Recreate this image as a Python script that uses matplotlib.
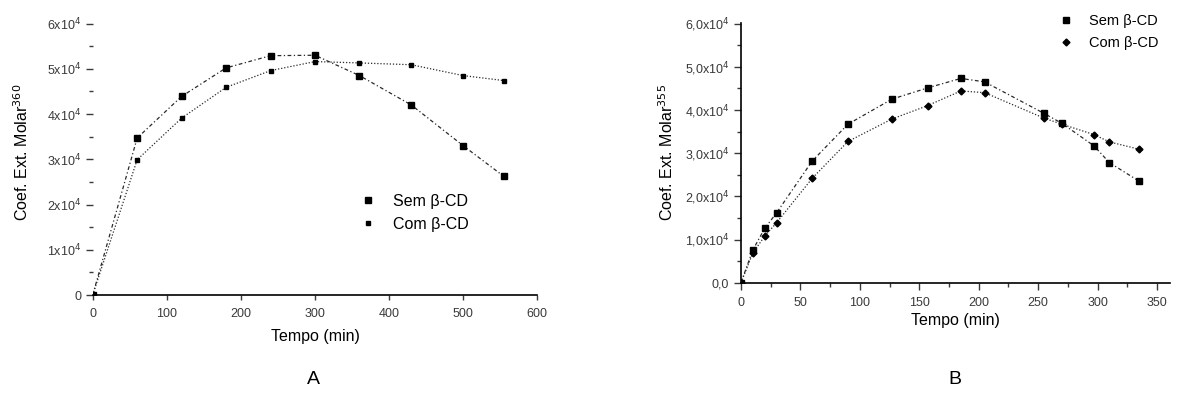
import matplotlib
matplotlib.use('Agg')
import matplotlib.pyplot as plt
from matplotlib.ticker import MultipleLocator

plt.rcParams['font.family'] = ['Liberation Sans', 'DejaVu Sans']

# painel A
tempo_a = [0, 60, 120, 180, 240, 300, 360, 430, 500, 555]
sem_a = [0, 3.47, 4.39, 5.02, 5.29, 5.30, 4.85, 4.20, 3.30, 2.62]
com_a = [0, 2.99, 3.91, 4.59, 4.96, 5.16, 5.13, 5.09, 4.85, 4.74]
yticks_a = [0, 1, 2, 3, 4, 5, 6]
ylabels_a = ['0', '1x10$^4$', '2x10$^4$', '3x10$^4$', '4x10$^4$', '5x10$^4$', '6x10$^4$']
xticks_a = [0, 100, 200, 300, 400, 500, 600]

# painel B
tempo_b = [0, 10, 20, 30, 60, 90, 127, 157, 185, 205, 255, 270, 297, 310, 335]
sem_b = [0, 0.76, 1.26, 1.62, 2.82, 3.67, 4.25, 4.51, 4.73, 4.65, 3.92, 3.69, 3.17, 2.78, 2.35]
com_b = [0, 0.69, 1.08, 1.39, 2.42, 3.27, 3.79, 4.10, 4.44, 4.40, 3.81, 3.67, 3.43, 3.26, 3.09]
yticks_b = [0, 1, 2, 3, 4, 5, 6]
ylabels_b = ['0,0', '1,0x10$^4$', '2,0x10$^4$', '3,0x10$^4$', '4,0x10$^4$', '5,0x10$^4$', '6,0x10$^4$']
xticks_b = [0, 50, 100, 150, 200, 250, 300, 350]

W, H = 1177, 396
fig = plt.figure(figsize=(W / 100, H / 100), dpi=100)
fig.set_facecolor('white')


def px_axes(x0, y0, x1, y1):
    # caixa em pixels (esq, topo, dir, baixo) -> fracao da figura
    return fig.add_axes([x0 / W, 1 - y1 / H, (x1 - x0) / W, (y1 - y0) / H])


tick_col = '#3a3a3a'
line_col = '#2a2a2a'
ls_sem = (0, (3, 2, 1, 2))
ls_com = (0, (1, 1.5))
lab_fs = 11.5
tick_fs = 9

# ---- A ----
axa = px_axes(92.7, 10, 537.3, 295)
axa.plot(tempo_a, sem_a, color=line_col, lw=0.9, ls=ls_sem, marker='s', ms=4,
         mfc='black', mec='black', label='Sem β-CD')
axa.plot(tempo_a, com_a, color=line_col, lw=0.9, ls=ls_com, marker='s', ms=3.5,
         mfc='black', mec='black', label='Com β-CD')
axa.set_xlim(0, 600)
axa.set_ylim(0, 6.3)
axa.set_xticks(xticks_a)
axa.set_yticks(yticks_a)
axa.set_yticklabels(ylabels_a)
axa.yaxis.set_minor_locator(MultipleLocator(0.5))
for s in ['top', 'right', 'left']:
    axa.spines[s].set_visible(False)
axa.spines['bottom'].set_linewidth(1.2)
axa.tick_params(axis='both', which='both', direction='out', labelsize=tick_fs, colors=tick_col, width=1)
axa.tick_params(axis='y', length=5, pad=3)
axa.tick_params(axis='y', which='minor', length=3)
axa.tick_params(axis='x', pad=6)
axa.set_xlabel('Tempo (min)', fontsize=lab_fs, labelpad=6)
axa.set_ylabel('Coef. Ext. Molar$^{360}$', fontsize=lab_fs, labelpad=12)
axa.legend(loc='center left', bbox_to_anchor=(347 / W, 1 - 213 / H), bbox_transform=fig.transFigure,
           frameon=False, fontsize=lab_fs, handlelength=1.2, handletextpad=1.0,
           labelspacing=0.5, borderpad=0.2)
for ln in axa.get_legend().get_lines():
    ln.set_linestyle('none')
fig.text(313 / W, 1 - 380 / H, 'A', ha='center', va='center', fontsize=14)

# ---- B ----
axb = px_axes(741, 22.7, 1170, 282.7)
axb.plot(tempo_b, sem_b, color=line_col, lw=0.9, ls=ls_sem, marker='s', ms=4.5,
         mfc='black', mec='black', label='Sem β-CD')
axb.plot(tempo_b, com_b, color=line_col, lw=0.9, ls=ls_com, marker='D', ms=3.5,
         mfc='black', mec='black', label='Com β-CD')
axb.set_xlim(0, 361)
axb.set_ylim(0, 6.02)
axb.set_xticks(xticks_b)
axb.xaxis.set_minor_locator(MultipleLocator(25))
axb.set_yticks(yticks_b)
axb.set_yticklabels(ylabels_b)
axb.yaxis.set_minor_locator(MultipleLocator(0.5))
for s in ['top', 'right']:
    axb.spines[s].set_visible(False)
axb.spines['bottom'].set_linewidth(1.2)
axb.spines['left'].set_linewidth(1.2)
axb.tick_params(axis='both', which='both', direction='out', labelsize=tick_fs, colors=tick_col, width=1)
axb.tick_params(axis='both', which='major', length=5)
axb.tick_params(axis='both', which='minor', length=3)
axb.tick_params(axis='x', pad=5)
axb.set_xlabel('Tempo (min)', fontsize=lab_fs, labelpad=3)
axb.set_ylabel('Coef. Ext. Molar$^{355}$', fontsize=lab_fs, labelpad=6)
axb.legend(loc='center left', bbox_to_anchor=(1047 / W, 1 - 32 / H), bbox_transform=fig.transFigure,
           frameon=False, fontsize=10.5, handlelength=1.2, handletextpad=1.0,
           labelspacing=0.55, borderpad=0.2)
for ln in axb.get_legend().get_lines():
    ln.set_linestyle('none')
fig.text(955 / W, 1 - 380 / H, 'B', ha='center', va='center', fontsize=14)

fig.savefig('out.png', dpi=100)
